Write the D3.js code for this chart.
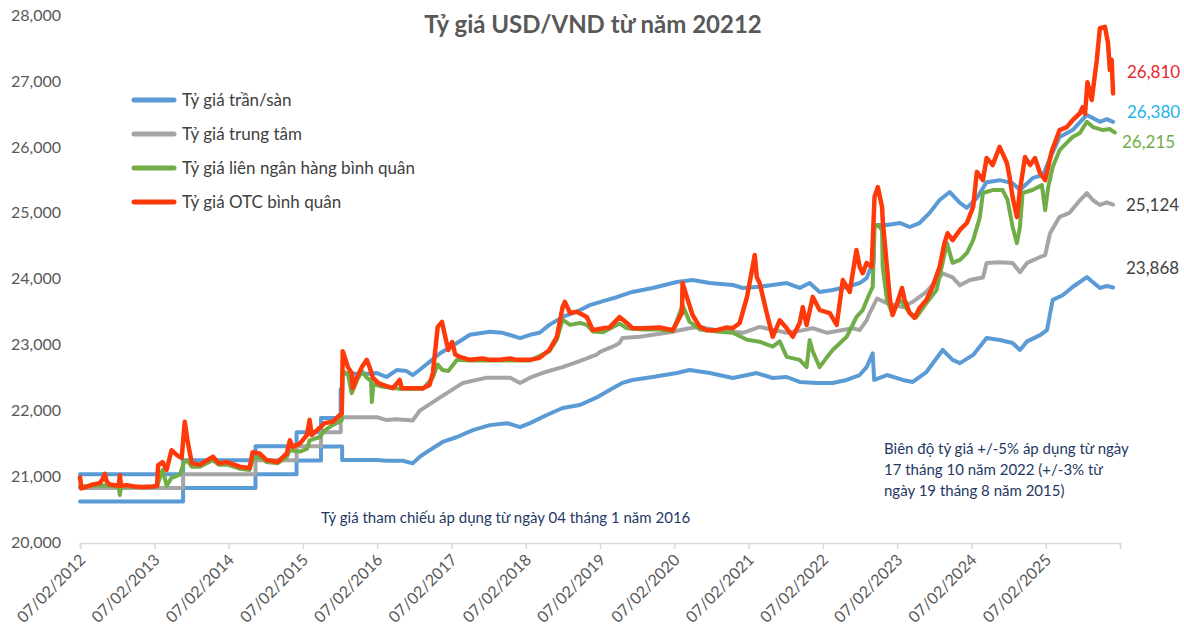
<!DOCTYPE html>
<html><head><meta charset="utf-8">
<script src="https://cdn.jsdelivr.net/npm/d3@7"></script>
<style>
html,body{margin:0;padding:0;background:#fff;}
svg{display:block;font-family:Lato,"Open Sans",sans-serif;}
</style></head>
<body>
<svg id="chart" width="1184" height="634"></svg>
<script>
// ---------- DATA ----------
const title = "Tỷ giá USD/VND từ năm 20212";
const seriesNames = ["Tỷ giá trần/sàn","Tỷ giá trung tâm","Tỷ giá liên ngân hàng bình quân","Tỷ giá OTC bình quân"];
const yTicks = [20000,21000,22000,23000,24000,25000,26000,27000,28000];
const xTickDates = ["2012-02-07","2013-02-07","2014-02-07","2015-02-07","2016-02-07","2017-02-07","2018-02-07","2019-02-07","2020-02-07","2021-02-07","2022-02-07","2023-02-07","2024-02-07","2025-02-07","2026-02-07"];
const endLabels = [26810, 26380, 26215, 25124, 23868];
const note1 = "Tỷ giá tham chiếu áp dụng từ ngày 04 tháng 1 năm 2016";
const note2 = ["Biên độ tỷ giá +/-5% áp dụng từ ngày","17 tháng 10 năm 2022 (+/-3% từ","ngày 19 tháng 8 năm 2015)"];

const ceilingData = [
["2012-02-07",21036],["2013-06-28",21036],["2013-06-28",21246],["2014-06-19",21246],["2014-06-19",21458],["2015-01-07",21458],["2015-01-07",21673],["2015-05-07",21673],["2015-05-07",21890],["2015-08-12",21890],["2015-08-12",22328],["2015-08-19",22328],["2015-08-19",22560],["2016-01-04",22560],
["2016-02-06",22570],["2016-03-25",22510],["2016-05-13",22615],["2016-07-01",22600],["2016-07-31",22540],["2016-09-04",22620],["2016-10-22",22740],["2016-12-13",22870],["2017-03-06",23025],["2017-05-08",23150],["2017-08-14",23195],["2017-10-16",23180],["2018-01-10",23100],["2018-02-28",23150],["2018-04-16",23180],["2018-06-03",23300],["2018-08-07",23420],["2018-10-16",23500],["2018-12-19",23600],["2019-02-22",23660],["2019-04-30",23720],["2019-07-16",23800],["2019-10-24",23860],["2020-02-19",23950],["2020-05-07",23980],["2020-07-31",23935],["2020-11-21",23905],["2021-01-10",23860],["2021-04-02",23880],["2021-06-05",23905],["2021-08-13",23935],["2021-10-16",23860],["2021-12-04",23935],["2022-01-22",23800],["2022-03-27",23830],["2022-06-04",23875],["2022-08-07",23935],["2022-09-10",24010],["2022-10-14",24260],["2022-10-17",24815],["2022-12-19",24815],["2023-02-22",24845],["2023-04-10",24785],["2023-05-28",24845],["2023-07-16",24995],["2023-09-04",25195],["2023-10-24",25315],["2023-12-13",25150],["2024-01-16",25075],["2024-03-05",25225],["2024-04-22",25465],["2024-06-25",25495],["2024-08-28",25450],["2024-10-03",25345],["2024-12-06",25530],["2025-01-25",25575],["2025-02-28",25830],["2025-04-16",26150],["2025-06-19",26255],["2025-08-28",26485],["2025-10-31",26380],["2025-12-04",26420],["2026-01-04",26380]
];
const floorData = [
["2012-02-07",20620],["2013-06-28",20620],["2013-06-28",20826],["2014-06-19",20826],["2014-06-19",21034],["2015-01-07",21034],["2015-01-07",21244],["2015-05-07",21244],["2015-05-07",21456],["2015-08-19",21456],["2015-08-19",21250],["2016-01-04",21250],
["2016-02-06",21250],["2016-03-25",21240],["2016-06-13",21240],["2016-07-31",21200],["2016-09-04",21300],["2016-10-22",21400],["2016-12-25",21525],["2017-03-06",21600],["2017-05-23",21705],["2017-08-14",21780],["2017-11-07",21810],["2018-01-10",21750],["2018-02-28",21810],["2018-05-19",21930],["2018-08-07",22040],["2018-10-31",22085],["2019-01-22",22200],["2019-04-10",22340],["2019-05-28",22420],["2019-07-16",22465],["2019-10-24",22510],["2020-02-19",22570],["2020-04-22",22615],["2020-07-31",22570],["2020-11-21",22495],["2021-03-19",22570],["2021-06-05",22495],["2021-08-13",22510],["2021-10-16",22435],["2022-01-10",22420],["2022-03-27",22420],["2022-06-04",22465],["2022-08-07",22540],["2022-09-10",22660],["2022-10-10",22870],["2022-10-17",22465],["2022-12-19",22540],["2023-03-07",22465],["2023-04-25",22435],["2023-07-01",22585],["2023-09-19",22920],["2023-11-07",22770],["2023-12-13",22720],["2024-02-16",22845],["2024-04-22",23100],["2024-06-25",23070],["2024-08-28",23025],["2024-10-03",22920],["2024-11-07",23050],["2025-01-10",23145],["2025-02-13",23220],["2025-03-13",23680],["2025-05-01",23750],["2025-06-19",23875],["2025-08-28",24025],["2025-10-31",23860],["2025-12-04",23890],["2026-01-04",23868]
];
const centralData = [
["2012-02-07",20828],["2013-06-28",20828],["2013-06-28",21036],["2014-06-19",21036],["2014-06-19",21246],["2015-01-07",21246],["2015-01-07",21458],["2015-05-07",21458],["2015-05-07",21673],["2015-08-12",21673],["2015-08-12",21900],["2016-01-04",21900],
["2016-02-06",21900],["2016-03-25",21857],["2016-05-13",21870],["2016-07-31",21850],["2016-09-04",22000],["2016-12-13",22200],["2017-04-04",22420],["2017-07-30",22500],["2017-11-22",22500],["2018-01-10",22420],["2018-02-28",22500],["2018-05-19",22590],["2018-08-07",22660],["2018-11-15",22770],["2019-01-22",22850],["2019-02-07",22890],["2019-04-10",22970],["2019-05-14",23025],["2019-05-28",23100],["2019-08-21",23120],["2020-01-01",23180],["2020-04-22",23250],["2020-06-12",23270],["2020-09-03",23220],["2021-01-10",23180],["2021-04-02",23270],["2021-08-13",23180],["2021-10-16",23210],["2021-12-19",23250],["2022-02-28",23180],["2022-07-04",23250],["2022-08-07",23220],["2022-09-10",23370],["2022-09-25",23480],["2022-10-31",23700],["2022-12-19",23630],["2023-03-07",23570],["2023-04-25",23650],["2023-07-01",23800],["2023-09-19",24080],["2023-11-07",24020],["2023-12-13",23900],["2024-01-31",23980],["2024-04-04",24020],["2024-04-22",24240],["2024-06-25",24250],["2024-08-28",24240],["2024-10-03",24100],["2024-11-07",24240],["2025-01-10",24330],["2025-02-04",24360],["2025-02-28",24690],["2025-04-16",24940],["2025-06-04",25000],["2025-07-25",25190],["2025-08-28",25300],["2025-09-27",25190],["2025-10-31",25120],["2025-12-04",25160],["2026-01-04",25124]
];
const interbankData = [
["2012-02-07",20850],["2012-05-14",20870],["2012-08-15",20850],["2012-08-21",20720],["2012-08-27",20850],["2012-12-12",20840],["2013-02-20",20850],["2013-03-19",21100],["2013-04-08",20860],["2013-05-02",20980],["2013-06-12",21030],["2013-07-06",21240],["2013-07-21",21230],["2013-08-10",21150],["2013-09-19",21150],["2013-11-22",21250],["2013-12-20",21180],["2014-01-30",21180],["2014-04-02",21120],["2014-05-21",21100],["2014-06-05",21260],["2014-07-09",21300],["2014-08-13",21220],["2014-10-05",21200],["2014-11-20",21300],["2014-12-05",21400],["2015-01-23",21380],["2015-02-27",21420],["2015-03-12",21550],["2015-05-01",21600],["2015-05-25",21700],["2015-07-03",21780],["2015-08-17",21850],
["2015-08-22",22600],["2015-09-16",22560],["2015-10-05",22265],["2015-10-30",22450],["2015-11-24",22600],["2015-12-18",22500],["2016-01-08",22450],["2016-01-12",22130],["2016-01-20",22400],["2016-03-06",22360],["2016-05-28",22330],["2016-09-19",22330],["2016-11-07",22500],["2016-12-01",22700],["2016-12-25",22615],["2017-01-22",22600],["2017-03-06",22770],["2017-05-08",22760],["2017-10-02",22760],["2018-02-28",22760],["2018-06-03",22900],["2018-07-10",23080],["2018-08-07",23380],["2018-09-13",23300],["2018-10-31",23330],["2018-12-04",23300],["2019-01-03",23200],["2019-02-22",23190],["2019-05-14",23320],["2019-06-19",23250],["2019-09-04",23230],["2019-11-28",23230],["2020-01-31",23200],["2020-03-19",23600],["2020-04-22",23350],["2020-06-12",23230],["2020-09-03",23200],["2020-11-21",23180],["2021-01-30",23075],["2021-04-02",23045],["2021-06-05",22970],["2021-07-10",23050],["2021-08-13",22815],["2021-10-16",22770],["2021-11-19",22660],["2021-12-04",23070],["2021-12-19",22900],["2022-01-22",22660],["2022-02-28",22815],["2022-03-27",22920],["2022-06-04",23120],["2022-07-22",23420],["2022-08-22",23525],["2022-09-25",23780],["2022-10-10",23875],["2022-10-19",24785],["2022-11-04",24815],["2022-11-25",24740],["2022-11-28",24180],["2022-12-19",23680],["2023-01-13",23480],["2023-02-22",23680],["2023-04-10",23480],["2023-05-13",23420],["2023-07-01",23630],["2023-08-20",23830],["2023-10-10",24540],["2023-11-07",24240],["2023-12-13",24285],["2024-01-16",24390],["2024-02-16",24585],["2024-03-20",24935],["2024-04-04",25300],["2024-05-22",25345],["2024-07-10",25345],["2024-08-03",25195],["2024-08-28",24785],["2024-09-18",24540],["2024-10-03",24785],["2024-10-16",25300],["2024-12-06",25350],["2025-01-19",25420],["2025-02-04",25040],["2025-02-19",25390],["2025-03-13",25695],["2025-04-16",25950],["2025-05-21",26060],["2025-06-19",26150],["2025-07-25",26210],["2025-08-28",26380],["2025-09-27",26300],["2025-11-16",26255],["2025-12-19",26270],["2026-01-13",26215]
];
const otcData = [
["2012-02-07",20990],["2012-02-14",20820],["2012-03-06",20840],["2012-04-10",20880],["2012-05-14",20900],["2012-05-28",20960],["2012-06-08",21040],["2012-06-18",20920],["2012-07-03",20880],["2012-08-15",20860],["2012-08-21",21020],["2012-08-27",20860],["2012-09-25",20870],["2012-11-01",20850],["2012-12-12",20840],["2013-01-31",20850],["2013-02-20",20860],["2013-02-25",21170],["2013-03-19",21220],["2013-04-08",21100],["2013-05-02",21400],["2013-05-27",21330],["2013-06-21",21280],["2013-07-06",21830],["2013-07-21",21520],["2013-08-10",21200],["2013-09-19",21180],["2013-11-22",21300],["2013-12-20",21200],["2014-01-30",21220],["2014-04-02",21150],["2014-05-21",21130],["2014-06-05",21370],["2014-07-09",21350],["2014-08-13",21250],["2014-10-05",21220],["2014-11-20",21350],["2014-12-05",21550],["2014-12-19",21450],["2015-01-23",21500],["2015-02-27",21630],["2015-03-12",21860],["2015-03-22",21630],["2015-05-01",21740],["2015-05-25",21810],["2015-07-03",21830],["2015-08-17",21960],
["2015-08-22",22900],["2015-08-28",22850],["2015-09-16",22660],["2015-10-05",22570],["2015-10-10",22340],["2015-10-30",22500],["2015-11-24",22660],["2015-12-18",22770],["2016-01-02",22650],["2016-01-17",22500],["2016-02-11",22420],["2016-03-06",22390],["2016-04-24",22340],["2016-05-28",22465],["2016-06-07",22340],["2016-07-31",22340],["2016-09-19",22340],["2016-10-22",22390],["2016-11-07",22570],["2016-12-01",23270],["2016-12-22",23345],["2017-01-07",23120],["2017-01-22",22920],["2017-02-10",23040],["2017-02-25",22850],["2017-03-20",22815],["2017-05-08",22770],["2017-07-10",22790],["2017-08-14",22770],["2017-10-02",22770],["2017-11-22",22790],["2017-12-25",22770],["2018-02-28",22770],["2018-04-16",22800],["2018-06-03",22920],["2018-07-10",23120],["2018-08-07",23570],["2018-08-18",23650],["2018-09-13",23480],["2018-10-16",23500],["2018-12-04",23420],["2019-01-03",23220],["2019-02-22",23250],["2019-03-25",23260],["2019-05-14",23420],["2019-06-19",23330],["2019-07-16",23250],["2019-09-04",23250],["2019-11-28",23260],["2020-01-31",23220],["2020-03-16",23480],["2020-03-19",23935],["2020-04-09",23725],["2020-05-07",23450],["2020-06-12",23270],["2020-07-16",23220],["2020-09-03",23220],["2020-10-22",23260],["2020-11-21",23250],["2020-12-25",23330],["2021-01-30",23725],["2021-03-09",24360],["2021-03-19",24025],["2021-04-02",23935],["2021-05-07",23480],["2021-06-05",23120],["2021-07-10",23370],["2021-08-13",23250],["2021-09-12",23120],["2021-10-16",23330],["2021-10-31",23570],["2021-11-19",23300],["2021-12-19",23725],["2022-01-22",23525],["2022-03-13",23480],["2022-04-16",23300],["2022-05-16",23980],["2022-06-19",23800],["2022-07-22",24435],["2022-08-07",24180],["2022-08-22",24085],["2022-09-10",24240],["2022-10-05",24180],["2022-10-19",25240],["2022-11-04",25390],["2022-11-25",25090],["2022-11-28",24890],["2022-12-19",24180],["2023-01-03",23680],["2023-01-16",23450],["2023-02-07",23630],["2023-03-03",23860],["2023-03-16",23680],["2023-04-10",23480],["2023-05-04",23405],["2023-05-28",23555],["2023-07-01",23680],["2023-07-31",23875],["2023-09-04",24180],["2023-09-28",24540],["2023-10-13",24690],["2023-11-07",24585],["2023-12-13",24740],["2024-01-16",24845],["2024-02-16",25090],["2024-03-05",25620],["2024-04-04",25495],["2024-04-22",25830],["2024-05-22",25725],["2024-06-25",26000],["2024-07-31",25755],["2024-08-13",25540],["2024-08-28",25240],["2024-09-18",24935],["2024-10-03",25345],["2024-10-28",25845],["2024-11-22",25725],["2024-12-16",25830],["2025-01-10",25600],["2025-02-04",25495],["2025-03-07",25920],["2025-04-16",26255],["2025-05-21",26300],["2025-06-19",26405],["2025-07-25",26510],["2025-08-07",26600],["2025-08-19",26500],["2025-08-31",26980],["2025-09-21",26710],["2025-10-16",27320],["2025-10-31",27800],["2025-11-25",27820],["2025-12-10",27575],["2025-12-19",27165],["2025-12-28",27320],["2026-01-04",26810]
];

// ---------- CHART ----------
const parse = d3.timeParse("%Y-%m-%d");
const svg = d3.select("#chart");
const x = d3.scaleTime().domain([parse("2012-02-07"), parse("2026-02-07")]).range([80, 1120]);
const y = d3.scaleLinear().domain([20000, 28000]).range([542.5, 15]);

const colors = {blue:"#5B9BD5", grey:"#A5A5A5", green:"#70AD47", red:"#FF3A0A"};
const textCol = "#595959";

// Title
svg.append("text").attr("x", 593).attr("y", 33).attr("text-anchor","middle")
  .attr("font-size", 24).attr("font-weight", 700).attr("fill", textCol).text(title);

// X axis
const xAxis = d3.axisBottom(x)
  .tickValues(xTickDates.map(parse))
  .tickSize(6)
  .tickFormat((d,i) => i < xTickDates.length - 1 ? d3.timeFormat("%d/%m/%Y")(d) : "");
const gx = svg.append("g").attr("transform", "translate(0,543)").call(xAxis);
gx.select(".domain").attr("stroke", "#D9D9D9").attr("stroke-width", 1.5);
gx.selectAll(".tick line").attr("stroke", "#D9D9D9").attr("stroke-width", 1.5);
gx.selectAll(".tick text")
  .attr("font-size", 16).attr("fill", textCol).attr("font-family","Lato")
  .attr("text-anchor", "end")
  .attr("transform", "translate(2,14) rotate(-45)")
  .attr("x", 0).attr("y", 0).attr("dy", "0.35em");

// Y axis (labels only)
const yAxis = d3.axisLeft(y).tickValues(yTicks).tickSize(0).tickPadding(0).tickFormat(d3.format(","));
const gy = svg.append("g").attr("transform", "translate(61,0)").call(yAxis);
gy.select(".domain").remove();
gy.selectAll(".tick text").attr("font-size", 16).attr("fill", textCol).attr("font-family","Lato");

// Lines
const line = d3.line().x(d => x(parse(d[0]))).y(d => y(d[1]));
const draw = (data, color, w) => svg.append("path").datum(data)
  .attr("fill","none").attr("stroke", color).attr("stroke-width", w)
  .attr("stroke-linejoin","round").attr("stroke-linecap","round").attr("d", line);
draw(ceilingData, colors.blue, 4);
draw(floorData, colors.blue, 4);
draw(centralData, colors.grey, 4);
draw(interbankData, colors.green, 4);
draw(otcData, colors.red, 4.5);

// Legend
const legendColors = [colors.blue, colors.grey, colors.green, colors.red];
const lg = svg.append("g");
seriesNames.forEach((name, i) => {
  const yy = 100 + i * 34;
  lg.append("line").attr("x1", 134).attr("x2", 174).attr("y1", yy).attr("y2", yy)
    .attr("stroke", legendColors[i]).attr("stroke-width", 5).attr("stroke-linecap","round");
  lg.append("text").attr("x", 182).attr("y", yy).attr("dy","0.35em")
    .attr("font-size", 17).attr("fill", "#404040").text(name);
});

// End labels
const endCols = ["#E8262B", "#1FB3E6", "#70AD47", "#404040", "#404040"];
const endDy = [-21, -10, 9, 0, -19];
const endDx = [1127, 1127, 1122, 1126, 1126];
endLabels.forEach((v, i) => {
  svg.append("text").attr("x", endDx[i]).attr("y", y(v) + endDy[i]).attr("dy","0.35em")
    .attr("font-size", 17).attr("fill", endCols[i]).text(d3.format(",")(v));
});

// Notes
const noteCol = "#1F3864";
svg.append("text").attr("x", 321).attr("y", 518).attr("dy","0.35em")
  .attr("font-size", 15).attr("fill", noteCol).text(note1);
note2.forEach((t, i) => {
  svg.append("text").attr("x", 884).attr("y", 449 + i * 21).attr("dy","0.35em")
    .attr("font-size", 15).attr("fill", noteCol).text(t);
});
</script>
</body></html>
